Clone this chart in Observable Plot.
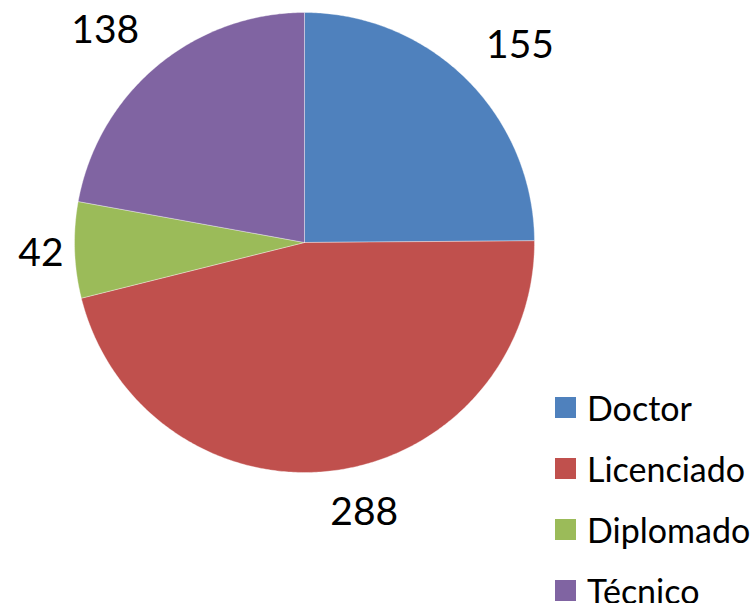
<!DOCTYPE html>
<html>
<head>
<meta charset="utf-8">
<script src="https://cdn.jsdelivr.net/npm/d3@7"></script>
<script src="https://cdn.jsdelivr.net/npm/@observablehq/plot@0.6"></script>
<style>
  body { margin: 0; background: #fff; }
  #wrap { position: relative; width: 754px; height: 603px; overflow: hidden; font-family: Lato, "Open Sans", sans-serif; }
  #legend { position: absolute; left: 555px; top: 397px; }
  .row { display: flex; align-items: center; height: 61px; position: relative; }
  .row .sw { width: 21px; height: 21px; margin-right: 11px; }
  .row span { font-size: 34px; color: #000; line-height: 1; }
</style>
</head>
<body>
<div id="wrap"><div id="chart"></div><div id="legend"></div></div>
<script>
const categories = ["Doctor", "Licenciado", "Diplomado", "Técnico"];
const values = [155, 288, 42, 138];
const colors = ["#4F81BD", "#C0504D", "#9BBB59", "#8064A2"];

const W = 754, H = 603, cx = 304, cy = 242, R = 230;
const FS = 39;
// data units: radius = 1, y up
const xDomain = [-cx / R, (W - cx) / R];
const yDomain = [-(H - cy) / R, cy / R];

const clamp = v => Math.max(0, Math.min(1, v));
const total = d3.sum(values);
const slices = [];
const labels = [];
let acc = 0;
values.forEach((v, i) => {
  const a0 = acc / total * 2 * Math.PI;
  acc += v;
  const a1 = acc / total * 2 * Math.PI;
  const n = Math.max(4, Math.ceil((a1 - a0) / 0.01));
  slices.push({cat: categories[i], x: 0, y: 0});
  for (let k = 0; k <= n; k++) {
    const a = a0 + (a1 - a0) * k / n;
    slices.push({cat: categories[i], x: Math.sin(a), y: Math.cos(a)});
  }
  slices.push({cat: categories[i], x: 0, y: 0});
  // outside-end label: a box corner/edge sits on the mid-angle ray
  const am = (a0 + a1) / 2;
  const txt = String(v);
  const w = txt.length * 0.58 * FS, h = 0.72 * FS;     // px
  const s = Math.sin(am), c = Math.cos(am);            // y up
  const r0 = 258 - 17 * Math.pow(Math.abs(s), 12);     // px
  const px = r0 * s, py = r0 * c;                      // y up
  const fx = clamp(0.5 - 3.2 * s);                     // fraction from left
  const fyTop = clamp(0.5 + 3.2 * c);                  // fraction from top (box top at P when 0)
  const cxl = px + (0.5 - fx) * w;
  const cyl = py - (0.5 - fyTop) * h;
  labels.push({text: txt, x: cxl / R, y: cyl / R});
});

const chart = Plot.plot({
  width: W,
  height: H,
  margin: 0,
  x: {domain: xDomain, axis: null},
  y: {domain: yDomain, axis: null},
  color: {domain: categories, range: colors},
  style: {fontFamily: "Lato, 'Open Sans', sans-serif", background: "white"},
  marks: [
    Plot.line(slices, {x: "x", y: "y", z: "cat", fill: "cat", stroke: "white", strokeWidth: 0.8, strokeOpacity: 0.45, curve: "linear"}),
    Plot.text(labels, {x: "x", y: "y", text: "text", fontSize: FS, fill: "black", textAnchor: "middle", lineAnchor: "middle"})
  ]
});
document.getElementById("chart").appendChild(chart);

const legend = document.getElementById("legend");
categories.forEach((c, i) => {
  const row = document.createElement("div");
  row.className = "row";
  row.style.marginTop = i === 0 ? "-20px" : "0";
  row.innerHTML = `<div class="sw" style="background:${colors[i]}"></div><span>${c}</span>`;
  legend.appendChild(row);
});
</script>
</body>
</html>
